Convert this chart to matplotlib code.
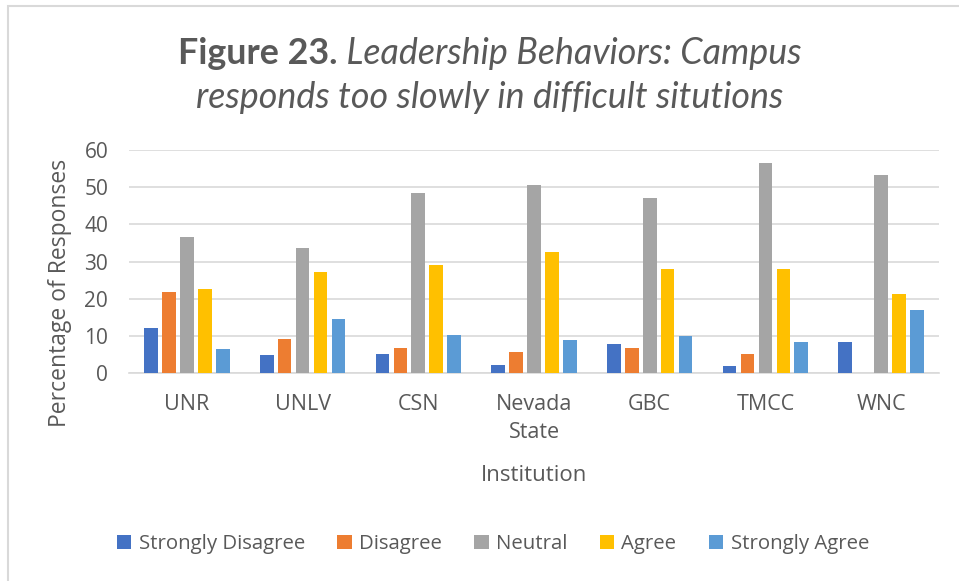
import matplotlib
matplotlib.use("Agg")
import matplotlib.pyplot as plt
import numpy as np
from matplotlib.patches import Rectangle

institutions = ["UNR", "UNLV", "CSN", "Nevada\nState", "GBC", "TMCC", "WNC"]
series_names = ["Strongly Disagree", "Disagree", "Neutral", "Agree", "Strongly Agree"]
strongly_disagree = [12.1, 4.9, 5.1, 2.1, 7.8, 2.0, 8.4]
disagree = [21.9, 9.1, 6.6, 5.6, 6.6, 5.1, 0.0]
neutral = [36.5, 33.7, 48.5, 50.5, 47.1, 56.5, 53.2]
agree = [22.7, 27.3, 29.0, 32.6, 28.1, 27.9, 21.2]
strongly_agree = [6.4, 14.5, 10.3, 8.9, 10.0, 8.3, 16.9]
colors = ["#4472C4", "#ED7D31", "#A5A5A5", "#FFC000", "#5B9BD5"]

font = "Open Sans"
txt = "#595959"

fig = plt.figure(figsize=(9.59, 5.81), dpi=100)
ax = fig.add_axes([129 / 959, 1 - 373 / 581, 810 / 959, 223 / 581])

x = np.arange(len(institutions))
step = 0.155
width = 0.118
all_series = [strongly_disagree, disagree, neutral, agree, strongly_agree]
for i, vals in enumerate(all_series):
    ax.bar(x + (i - 2) * step, vals, width, color=colors[i], label=series_names[i], zorder=3)

ax.set_xlim(-0.5, len(institutions) - 0.5)
ax.set_ylim(0, 60)
ax.set_yticks(range(0, 61, 10))
ax.grid(axis="y", color="#d9d9d9", linewidth=1.2, zorder=0)
for s in ["top", "right", "left"]:
    ax.spines[s].set_visible(False)
ax.spines["bottom"].set_color("#d9d9d9")
ax.spines["bottom"].set_linewidth(1.2)
ax.tick_params(length=0, colors=txt, labelsize=15)
ax.tick_params(axis="y", pad=15)
ax.set_xticks(x)
ax.set_xticklabels(institutions, fontfamily=font, fontsize=15.5, color=txt, linespacing=1.45)
ax.tick_params(axis="x", pad=15)
for lab in ax.get_yticklabels():
    lab.set_fontfamily(font)
ax.set_xlabel("Institution", fontfamily=font, fontsize=16, color=txt, labelpad=16)
ax.set_ylabel("Percentage of Responses", fontfamily=font, fontsize=16.5, color=txt)
ax.yaxis.set_label_coords((72 - 129) / 810, (373 - 293) / 223)

leg = fig.legend(loc="center", bbox_to_anchor=(493 / 959, 1 - 544 / 581), ncol=5, frameon=False,
                 prop={"family": font, "size": 14.7}, handlelength=0.7, handleheight=0.7,
                 handletextpad=0.35, columnspacing=1.6, labelcolor=txt)

# chart border
fig.patches.append(Rectangle((8 / 959, -0.05), 1.2, 1 - 6 / 581 + 0.05, transform=fig.transFigure,
                             fill=False, edgecolor="#d9d9d9", linewidth=1.5))

# title: bold prefix + italic remainder on first line
fig.canvas.draw()
r = fig.canvas.get_renderer()
tsize = 25.8
t1 = fig.text(0, 0, "Figure 23.", fontfamily="Lato", fontweight="bold", fontsize=tsize, color=txt)
t2 = fig.text(0, 0, " Leadership Behaviors: Campus", fontfamily="Lato", style="italic", fontsize=tsize, color=txt)
w1 = t1.get_window_extent(r).width
w2 = t2.get_window_extent(r).width
cx = 490
x0 = cx - (w1 + w2) / 2
y1 = 581 - 53
t1.set_position((x0 / 959, y1 / 581))
t1.set_va("center")
t2.set_position(((x0 + w1) / 959, y1 / 581))
t2.set_va("center")
fig.text(cx / 959, 1 - 98 / 581, "responds too slowly in difficult situtions", fontfamily="Lato",
         style="italic", fontsize=tsize, color=txt, ha="center", va="center")

fig.savefig("out.png", dpi=100)
